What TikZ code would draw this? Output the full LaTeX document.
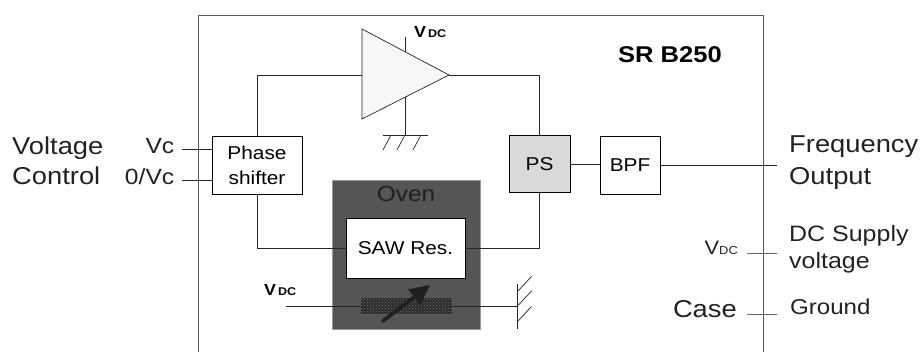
\documentclass[tikz,border=0pt]{standalone}
\usepackage{fontspec}
\setmainfont[FakeStretch=1.12]{Liberation Sans}
\usepackage{xcolor}
\usetikzlibrary{arrows.meta,calc,patterns}
\definecolor{ovengray}{HTML}{555555}
\definecolor{psgray}{HTML}{D9D9D9}
\definecolor{heatgray}{HTML}{2B2B2B}
\definecolor{textgray}{HTML}{222222}
\tikzset{
  blockbox/.style={draw=black,line width=0.6pt,fill=white,align=center,inner sep=0pt,font=\fontsize{18.6}{25}\selectfont},
  wirelink/.style={draw=black!85,line width=0.7pt},
  biglabel/.style={inner sep=0pt,text=textgray,font=\fontsize{24.4}{28}\selectfont},
  midlabel/.style={inner sep=0pt,text=textgray,font=\fontsize{22}{26}\selectfont},
  boldlabel/.style={inner sep=0pt,font=\bfseries\fontsize{16}{18}\selectfont}
}
\newcommand{\vdclabel}{V{\fontsize{11.2}{13}\selectfont\,DC}}
\begin{document}
\begin{tikzpicture}[x=1pt,y=-1pt]
  \useasboundingbox (0,0) rectangle (923,352);
  % package outline
  \draw[draw=black!65,line width=0.8pt] (198.5,352) -- (198.5,15) -- (763,15) -- (763,352);
  \node[boldlabel,font=\bfseries\fontsize{22.8}{26}\selectfont] (title) at (670,55) {SR B250};
  % oven
  \node[draw=black!40,fill=ovengray,minimum width=148pt,minimum height=149pt,inner sep=0pt] (oven) at (406,254.5) {};
  \node[inner sep=0pt,text=black!88,font=\fontsize{21.8}{26}\selectfont] (ovenlabel) at (406,194) {Oven};
  \node[blockbox,minimum width=119pt,minimum height=60pt] (saw) at (405.5,248) {SAW Res.};
  % blocks
  \node[blockbox,minimum width=90pt,minimum height=58pt] (phase) at (257,165) {Phase\\shifter};
  \node[blockbox,fill=psgray,minimum width=61pt,minimum height=57pt] (ps) at (539.5,164) {PS};
  \node[blockbox,minimum width=60pt,minimum height=58pt] (bpf) at (630,165) {BPF};
  % supply and ground of amplifier
  \coordinate (ampvdc) at (405.5,37);
  \coordinate (ampgnd) at (405.5,135);
  \draw[wirelink] (ampvdc) -- (ampgnd);
  \draw[wirelink] (383,135) -- (428,135);
  \foreach \hx in {391,405,421} {
    \draw[wirelink] (\hx,135) -- ++(-8,15);
  }
  % amplifier
  \coordinate (ampa) at (362,29);
  \coordinate (ampb) at (362,119);
  \coordinate (ampout) at (449,75);
  \coordinate (ampin) at (362,75);
  \draw[fill=black!3,draw=black!85,line width=0.7pt] (ampa) -- (ampout) -- (ampb) -- cycle;
  \node[boldlabel,anchor=base west] (vdctop) at (414,38) {\vdclabel};
  % loop
  \draw[wirelink] (phase.north) -- (phase.north |- ampin) -- (ampin);
  \draw[wirelink] (ampout) -- (ps.north |- ampout) -- (ps.north);
  \draw[wirelink] (phase.south) -- (phase.south |- saw.west) -- (saw.west);
  \draw[wirelink] (saw.east) -- (ps.south |- saw.east) -- (ps.south);
  \draw[wirelink] (ps.east) -- (ps.east -| bpf.west);
  % heater
  \node[fill=heatgray,minimum width=91pt,minimum height=16pt,inner sep=0pt] (heater) at (406.5,306) {};
  \fill[pattern=crosshatch dots,pattern color=black!55] (heater.south west) rectangle (heater.north east);
  \coordinate (heatin) at (286,306);
  \coordinate (heatgnd) at (517.5,306);
  \draw[wirelink] (heatin) -- (heater.west);
  \draw[wirelink] (heater.east) -- (heatgnd);
  \draw[wirelink] (517.5,284) -- (517.5,329);
  \foreach \hy in {291.5,306,321.5} {
    \draw[wirelink] (517.5,\hy) -- ++(14,-15);
  }
  \coordinate (arrowa) at (383,321);
  \coordinate (arrowb) at (430,285);
  \draw[line width=3.5pt,line cap=round,color=black!88,-{Triangle[length=20pt,width=19pt]}] (arrowa) -- (arrowb);
  \node[boldlabel,anchor=base west] (vdcheat) at (264,296) {\vdclabel};
  % left side
  \node[biglabel,anchor=base west] (voltage) at (12,155) {Voltage};
  \node[biglabel,anchor=base west] (control) at (12,185) {Control};
  \node[midlabel,anchor=base east] (vc) at (174.5,154) {Vc};
  \node[midlabel,anchor=base east] (zerovc) at (174.5,185) {0/Vc};
  \coordinate (vcstart) at (182,149);
  \coordinate (zerostart) at (182,180);
  \draw[wirelink] (vcstart) -- (vcstart -| phase.west);
  \draw[wirelink] (zerostart) -- (zerostart -| phase.west);
  % right side
  \coordinate (freqend) at (777,165);
  \draw[wirelink] (bpf.east) -- (freqend);
  \node[biglabel,anchor=base west] (freq) at (789,153) {Frequency};
  \node[biglabel,anchor=base west] (output) at (789,185) {Output};
  \node[midlabel,anchor=base west,font=\fontsize{22.3}{26}\selectfont] (dc) at (789,242) {DC Supply};
  \node[midlabel,anchor=base west,font=\fontsize{22.3}{26}\selectfont] (voltagetext) at (789,269) {voltage};
  \node[midlabel,anchor=base west,font=\fontsize{21.5}{26}\selectfont] (ground) at (790,315) {Ground};
  \node[biglabel,anchor=base east] (case) at (737,318) {Case};
  \node[midlabel,anchor=base east,font=\fontsize{19.5}{24}\selectfont] (vdcright) at (738,255) {V{\fontsize{11.5}{14}\selectfont DC}};
  \draw[wirelink,draw=black!60] (747,253.5) -- (777,253.5);
  \draw[wirelink,draw=black!60] (747,314) -- (777,314);
\end{tikzpicture}
\end{document}
